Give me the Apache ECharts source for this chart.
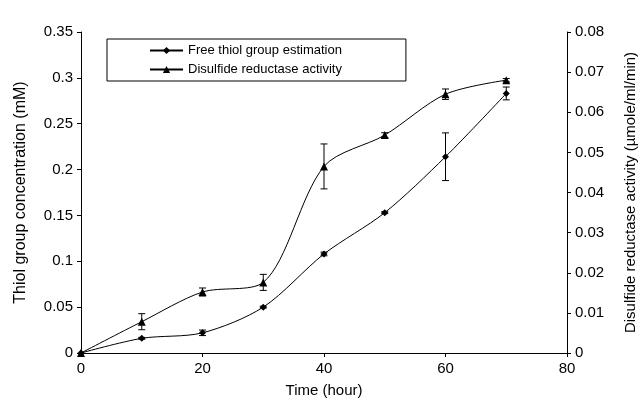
<!DOCTYPE html>
<html>
<head>
<meta charset="utf-8">
<script src="https://cdn.jsdelivr.net/npm/echarts@6/dist/echarts.min.js"></script>
<style>
  html, body { margin: 0; padding: 0; background: #fff; }
  #chart { width: 641px; height: 410px; }
</style>
</head>
<body>
<div id="chart"></div>
<script>
const hours = [0, 10, 20, 30, 40, 50, 60, 70];
const thiol = [0, 0.016, 0.022, 0.050, 0.108, 0.153, 0.214, 0.283];
const thiolErr = [0, 0.001, 0.003, 0.001, 0.002, 0.001, 0.026, 0.007];
const reductase = [0, 0.0078, 0.0152, 0.0176, 0.0465, 0.0543, 0.0645, 0.068];
const reductaseErr = [0, 0.002, 0.001, 0.002, 0.0056, 0.0006, 0.0013, 0.0004];

const font = 'Liberation Sans, Arial, sans-serif';

const pairs = (ys) => hours.map((h, i) => [h, ys[i]]);
const errData = (ys, es) => hours.map((h, i) => [h, ys[i], es[i]]);

// draws a vertical bar with caps
const errorBar = (params, api) => {
  const x = api.value(0), y = api.value(1), e = api.value(2);
  if (!e) return;
  const hi = api.coord([x, y + e]);
  const lo = api.coord([x, y - e]);
  const w = 3.5;
  const st = { stroke: '#000', lineWidth: 1 };
  return {
    type: 'group',
    children: [
      { type: 'line', shape: { x1: hi[0], y1: hi[1], x2: lo[0], y2: lo[1] }, style: st },
      { type: 'line', shape: { x1: hi[0] - w, y1: hi[1], x2: hi[0] + w, y2: hi[1] }, style: st },
      { type: 'line', shape: { x1: lo[0] - w, y1: lo[1], x2: lo[0] + w, y2: lo[1] }, style: st }
    ]
  };
};

const axisCommon = {
  axisLine: { show: true, onZero: false, lineStyle: { color: '#000', width: 1 } },
  axisTick: { show: true, length: 4, lineStyle: { color: '#000' } },
  axisLabel: { color: '#000', fontFamily: font, fontSize: 15 },
  splitLine: { show: false },
  nameTextStyle: { color: '#000', fontFamily: font }
};

const chart = echarts.init(document.getElementById('chart'));
chart.setOption({
  animation: false,
  backgroundColor: '#fff',
  grid: { left: 81, right: 74, top: 32, bottom: 57, outerBoundsMode: 'none' },
  legend: {
    data: ['Free thiol group estimation', 'Disulfide reductase activity'],
    orient: 'vertical',
    left: 107,
    top: 39,
    itemWidth: 33,
    itemHeight: 9,
    itemGap: 6,
    padding: [5, 64, 5, 42],
    borderColor: '#000',
    borderWidth: 1,
    textStyle: { color: '#000', fontFamily: font, fontSize: 13 }
  },
  xAxis: {
    type: 'value',
    min: 0, max: 80, interval: 20,
    name: 'Time (hour)',
    nameLocation: 'middle',
    nameGap: 30,
    ...axisCommon,
    nameTextStyle: { color: '#000', fontFamily: font, fontSize: 15 }
  },
  yAxis: [
    {
      type: 'value',
      min: 0, max: 0.35, interval: 0.05,
      name: 'Thiol group concentration (mM)',
      nameLocation: 'middle',
      nameGap: 52,
      ...axisCommon,
      nameTextStyle: { color: '#000', fontFamily: font, fontSize: 16 }
    },
    {
      type: 'value',
      min: 0, max: 0.08, interval: 0.01,
      position: 'right',
      name: 'Disulfide reductase activity (µmole/ml/min)',
      nameLocation: 'middle',
      nameGap: 56,
      nameRotate: 90,
      ...axisCommon,
      nameTextStyle: { color: '#000', fontFamily: font, fontSize: 15 }
    }
  ],
  series: [
    {
      name: 'Free thiol group estimation',
      type: 'line',
      data: pairs(thiol),
      smooth: 0.3,
      symbol: 'diamond',
      symbolSize: 7,
      itemStyle: { color: '#000' },
      lineStyle: { color: '#000', width: 1 }
    },
    {
      name: 'Disulfide reductase activity',
      type: 'line',
      yAxisIndex: 1,
      data: pairs(reductase),
      smooth: 0.3,
      symbol: 'triangle',
      symbolSize: 8,
      itemStyle: { color: '#000' },
      lineStyle: { color: '#000', width: 1 }
    },
    {
      type: 'custom',
      renderItem: errorBar,
      data: errData(thiol, thiolErr),
      z: 3
    },
    {
      type: 'custom',
      yAxisIndex: 1,
      renderItem: errorBar,
      data: errData(reductase, reductaseErr),
      z: 3
    }
  ]
});
</script>
</body>
</html>
